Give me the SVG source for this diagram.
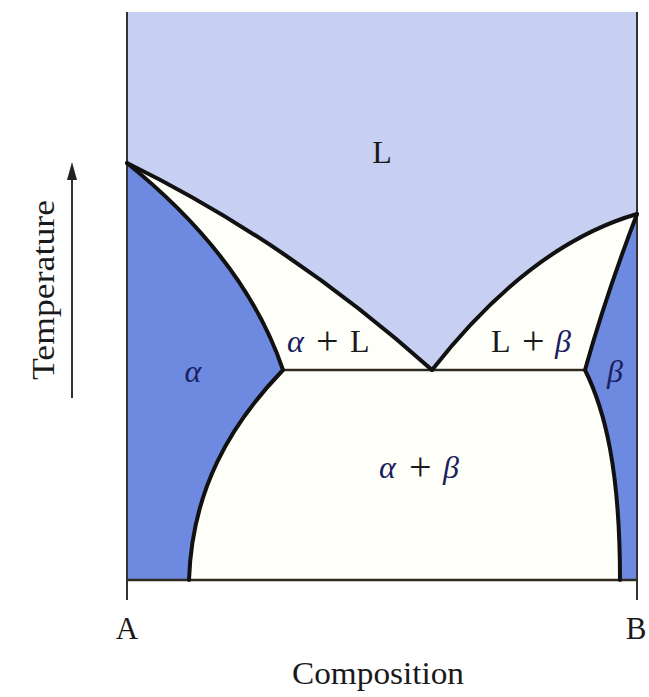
<svg xmlns="http://www.w3.org/2000/svg" width="649" height="697" viewBox="0 0 649 697">
<style>
.lbl{font-family:"Liberation Serif","Times New Roman",serif;fill:#1a1a1a;}
.gk{font-style:italic;fill:#1a2060;}
.pl{font-size:40px;}
.bd{fill:none;stroke:#111;stroke-width:4;stroke-linejoin:round;stroke-linecap:round;}
.thin{fill:none;stroke:#2e2a1e;stroke-width:2.5;}
.ax{fill:none;stroke:#333;stroke-width:2;}
</style>
<rect width="649" height="697" fill="#ffffff"/>
<g id="regions">
<rect id="white-bg" x="127" y="12" width="510" height="568" fill="#fffffa"/>
<path id="L-region" d="M127,12 L637,12 L637,214 Q530,245 432,370 Q290,243 127,163 Z" fill="#c7cff2"/>
<path id="alpha-region" d="M127,163 Q245,258 283,370 C230,425 192,490 189,580 L127,580 Z" fill="#6e8ae0"/>
<path id="beta-region" d="M637,214 Q606,295 585,370 C605,410 620,470 620,580 L637,580 Z" fill="#6e8ae0"/>
</g>
<g id="connectors">
<line class="ax" x1="127" y1="12" x2="127" y2="600"/>
<line class="ax" x1="637" y1="12" x2="637" y2="600"/>
<line class="thin" x1="127" y1="580" x2="637" y2="580"/>
<line class="thin" x1="283" y1="370" x2="585" y2="370"/>
<path class="bd" d="M127,163 Q290,243 432,370"/>
<path class="bd" d="M637,214 Q530,245 432,370"/>
<path class="bd" d="M127,163 Q245,258 283,370 C230,425 192,490 189,580"/>
<path class="bd" d="M637,214 Q606,295 585,370 C605,410 620,470 620,580"/>
<line x1="72" y1="398" x2="72" y2="176" stroke="#333" stroke-width="2"/>
<path d="M72,162 L67,180 L77,180 Z" fill="#222"/>
</g>
<g id="labels">
<text class="lbl" x="382" y="163" font-size="32" text-anchor="middle">L</text>
<text class="lbl" y="352" font-size="32"><tspan class="gk" x="287">α</tspan><tspan class="pl" x="316" y="354">+</tspan><tspan x="350" y="352">L</tspan></text>
<text class="lbl" y="352" font-size="32"><tspan x="491">L</tspan><tspan class="pl" x="522" y="354">+</tspan><tspan class="gk" x="555" y="352">β</tspan></text>
<text class="lbl gk" x="193" y="382" font-size="32" text-anchor="middle">α</text>
<text class="lbl gk" x="615" y="382" font-size="32" text-anchor="middle">β</text>
<text class="lbl" y="478" font-size="32"><tspan class="gk" x="379">α</tspan><tspan class="pl" x="409" y="480">+</tspan><tspan class="gk" x="443" y="478">β</tspan></text>
<text class="lbl" x="127" y="639" font-size="31" text-anchor="middle">A</text>
<text class="lbl" x="636" y="639" font-size="31" text-anchor="middle">B</text>
<text class="lbl" x="378" y="684" font-size="32" text-anchor="middle" textLength="172" lengthAdjust="spacingAndGlyphs">Composition</text>
<text class="lbl" x="0" y="0" font-size="32" text-anchor="middle" textLength="180" lengthAdjust="spacingAndGlyphs" transform="translate(54,290) rotate(-90)">Temperature</text>
</g>
</svg>
